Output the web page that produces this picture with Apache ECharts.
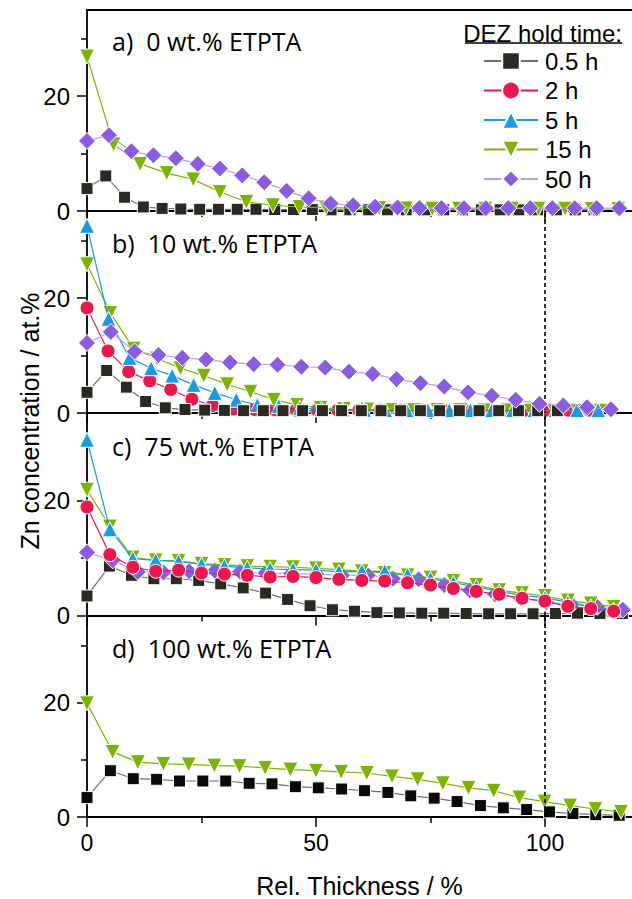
<!DOCTYPE html>
<html>
<head>
<meta charset="utf-8">
<script src="https://cdn.jsdelivr.net/npm/echarts@6/dist/echarts.min.js"></script>
<style>html,body{margin:0;padding:0;background:#fff}#c{width:632px;height:899px}</style>
</head>
<body>
<div id="c"></div>
<script>
// ---------- data ----------
const seriesNames = ['0.5 h', '2 h', '5 h', '15 h', '50 h'];
const panelLabels = ['a)  0 wt.% ETPTA', 'b)  10 wt.% ETPTA', 'c)  75 wt.% ETPTA', 'd)  100 wt.% ETPTA'];
const xTickLabels = [0, 50, 100];
const xMinorTicks = [25, 75];
const yTickLabels = [0, 20];
const yMinorTicks = [10, 30];
const xTitle = 'Rel. Thickness / %';
const yTitle = 'Zn concentration / at.%';
const legendTitle = 'DEZ hold time:';

// panel a (0 wt.%)
const a_black_x = [0,4.1,8.2,12.3,16.4,20.5,24.6,28.7,32.8,36.9,41,45.1,49.2,53.3,57.4,61.5,65.6,69.7,73.8,77.9,82,86.1,90.2,94.3,98.4,102.5,106.6,110.7];
const a_black_y = [3.9,6.1,2.4,0.7,0.45,0.35,0.3,0.3,0.3,0.3,0.25,0.25,0.25,0.2,0.2,0.2,0.2,0.2,0.2,0.2,0.2,0.2,0.2,0.2,0.2,0.2,0.2,0.2];
const a_green_x = [0,5.8,11.6,17.4,23.2,29,34.8,40.6,46.4,52.2,58,63.8,69.6,75.4,81.2,87,92.8,98.6,104.4,110.2,116];
const a_green_y = [26.9,11.6,8.2,6.6,5.5,3.3,1.6,1.0,0.7,0.6,0.5,0.5,0.45,0.4,0.4,0.4,0.4,0.4,0.4,0.35,0.35];
const a_purple_x = [0,4.8,9.7,14.5,19.4,24.2,29,33.9,38.7,43.6,48.4,53.2,58.1,62.9,67.8,72.6,77.4,82.3,87.1,92,96.8,101.6,106.5,111.3,116.2];
const a_purple_y = [12.2,13.2,10.4,9.7,9.2,8.2,7.4,6.2,5.0,3.5,2.2,1.3,1.0,0.75,0.6,0.5,0.5,0.5,0.5,0.5,0.5,0.5,0.5,0.5,0.5];

// panel b (10 wt.%)
const b_black_x = [0,4.3,8.6,12.8,17.1,21.4,25.7,30,34.2,38.5,42.8,47.1,51.4,55.6,59.9,64.2,68.5,72.8,77,81.3,85.6,89.9,94.2,98.4,102.7];
const b_black_y = [3.6,7.4,4.5,2.0,0.9,0.6,0.5,0.45,0.4,0.4,0.4,0.4,0.4,0.4,0.4,0.4,0.4,0.4,0.4,0.4,0.4,0.4,0.4,0.4,0.4];
const b_red_x = [0,4.6,9.1,13.7,18.3,22.9,27.4,32,36.6,41.1,45.7,50.3,54.8,59.4,64,68.6,73.1,77.7,82.3,86.8,91.4,96,100.5,105.1,109.7];
const b_red_y = [18.3,10.8,7.2,5.6,4.1,2.4,1.3,0.7,0.6,0.55,0.5,0.5,0.5,0.5,0.5,0.5,0.5,0.5,0.5,0.5,0.5,0.5,0.5,0.5,0.5];
const b_blue_x = [0,4.7,9.3,14,18.6,23.3,27.9,32.6,37.2,41.9,46.5,51.2,55.8,60.5,65.1,69.8,74.4,79.1,83.7,88.4,93,97.7,102.3,107,111.6];
const b_blue_y = [32.6,16.4,9.6,7.8,6.5,4.9,3.5,2.3,1.4,1.2,0.9,0.7,0.6,0.55,0.5,0.5,0.5,0.5,0.5,0.5,0.5,0.5,0.5,0.5,0.5];
const b_green_x = [0,5.1,10.2,15.3,20.4,25.5,30.6,35.7,40.8,45.9,51,56.1,61.2,66.3,71.4,76.5,81.6,86.7,91.8,96.9,102,107.1,112.2];
const b_green_y = [25.9,17.4,11.2,9.5,7.8,6.5,5.0,3.7,2.3,1.4,0.9,0.7,0.6,0.5,0.5,0.5,0.5,0.45,0.45,0.4,0.4,0.4,0.4];
const b_purple_x = [0,5.2,10.4,15.6,20.8,26,31.2,36.4,41.6,46.8,52,57.2,62.4,67.6,72.8,78,83.2,88.4,93.6,98.8,104,109.2,114.4];
const b_purple_y = [12.2,14.1,10.7,10.1,9.6,9.3,8.8,8.5,8.4,8.05,7.9,7.2,6.8,5.9,5.2,4.6,3.6,3.0,2.3,1.6,1.3,1.0,0.65];

// panel c (75 wt.%)
const c_black_x = [0,4.9,9.7,14.6,19.5,24.4,29.2,34.1,39,43.8,48.7,53.6,58.4,63.3,68.2,73.1,77.9,82.8,87.7,92.5,97.4,102.3,107.1,112,116.9];
const c_black_y = [3.4,8.6,7.0,6.4,6.4,6.1,5.5,4.8,3.9,2.8,1.7,1.0,0.75,0.5,0.45,0.4,0.4,0.35,0.3,0.3,0.3,0.35,0.4,0.35,0.35];
const c_red_x = [0,5,10,15,20,25,30,35,40,45,50,55,60,65,70,75,80,85,90,95,100,105,110,115];
const c_red_y = [18.9,10.6,8.4,7.7,7.9,7.4,7.2,7.0,6.7,6.8,6.6,6.3,6.1,6.0,5.7,5.3,4.7,4.2,3.7,3.0,2.5,1.6,1.2,0.75];
const c_blue_x = [0,5,10,15,20,25,30,35,40,45,50,55,60,65,70,75,80,85,90,95,100,105,110,115];
const c_blue_y = [30.6,15.0,9.9,9.6,9.4,8.9,8.6,8.3,8.1,8.0,7.9,7.6,7.7,7.7,7.1,6.4,5.7,5.0,4.2,3.5,3.1,2.3,1.6,1.0];
const c_green_x = [0,5,10,15,20,25,30,35,40,45,50,55,60,65,70,75,80,85,90,95,100,105,110,115];
const c_green_y = [21.9,15.5,10.1,9.6,9.5,9.0,8.8,8.6,8.5,8.4,8.2,8.0,7.7,7.4,7.0,6.6,6.0,5.3,4.4,3.9,3.4,2.6,2.1,1.5];
const c_purple_x = [0,5.6,11.1,16.7,22.3,27.9,33.4,39,44.6,50.1,55.7,61.3,66.8,72.4,78,83.6,89.1,94.7,100.3,105.8,111.4,117];
const c_purple_y = [11.0,9.6,7.6,7.5,7.7,7.8,7.6,7.4,7.3,7.2,7.0,7.0,6.4,6.3,5.3,4.4,3.7,3.0,2.3,1.9,1.5,1.0];

// panel d (100 wt.%)
const d_black_x = [0,5.1,10.1,15.2,20.2,25.3,30.3,35.4,40.4,45.5,50.5,55.6,60.6,65.7,70.7,75.8,80.8,85.9,90.9,96,101,106.1,111.1,116.2];
const d_black_y = [3.4,8.1,6.7,6.6,6.3,6.3,6.3,5.9,5.8,5.3,5.1,4.9,4.6,4.3,3.7,3.3,2.7,2.0,1.6,1.3,0.9,0.6,0.4,0.3];
const d_green_x = [0,5.6,11.1,16.7,22.2,27.8,33.3,38.9,44.4,50,55.5,61.1,66.6,72.2,77.7,83.3,88.8,94.4,99.9,105.5,111,116.6];
const d_green_y = [19.9,11.4,9.6,9.3,9.2,9.0,8.9,8.6,8.3,8.1,7.9,7.7,7.1,6.6,5.9,5.1,4.6,3.4,2.7,2.0,1.4,0.9];

const referenceLineX = 100;

// ---------- styles ----------
const FONT = 'Liberation Sans, Arial, sans-serif';
const LABEL_FONT = 'Open Sans, Noto Sans, sans-serif';
const styles = {
  '0.5 h': { symbol: 'rect', size: 12, rotate: 0, color: '#2b2a22', line: '#707070' },
  '2 h':   { symbol: 'circle', size: 14, rotate: 0, color: '#e8194f', line: '#e8194f' },
  '5 h':   { symbol: 'triangle', size: 15, rotate: 0, color: '#1a9be0', line: '#1a9be0' },
  '15 h':  { symbol: 'triangle', size: 15, rotate: 180, color: '#7cb305', line: '#7cb305' },
  '50 h':  { symbol: 'diamond', size: 17, rotate: 0, color: '#8c5ce0', line: '#b99cf0' }
};

const X_MAX = 119, Y_MAX = 35;
const gridTops = [10, 212, 414.5, 617];
const gridH = 201;

function zip(xs, ys) { return xs.map((x, i) => [x, ys[i]]); }

const panels = [
  [['0.5 h', a_black_x, a_black_y], ['15 h', a_green_x, a_green_y], ['50 h', a_purple_x, a_purple_y]],
  [['2 h', b_red_x, b_red_y], ['15 h', b_green_x, b_green_y], ['5 h', b_blue_x, b_blue_y], ['0.5 h', b_black_x, b_black_y], ['50 h', b_purple_x, b_purple_y]],
  [['0.5 h', c_black_x, c_black_y], ['50 h', c_purple_x, c_purple_y], ['15 h', c_green_x, c_green_y], ['5 h', c_blue_x, c_blue_y], ['2 h', c_red_x, c_red_y]],
  [['0.5 h', d_black_x, d_black_y], ['15 h', d_green_x, d_green_y]]
];

const grid = [], xAxis = [], yAxis = [], series = [], graphic = [];
const axisLine = { show: true, onZero: false, lineStyle: { color: '#000', width: 1.8 } };

panels.forEach((list, i) => {
  grid.push({ left: 87, right: 0, top: gridTops[i], height: gridH });
  const xi = xAxis.length;
  xAxis.push({
    type: 'value', gridIndex: i, min: 0, max: X_MAX, position: 'bottom',
    axisLine,
    axisTick: { show: true, inside: false, length: 10, customValues: xTickLabels, lineStyle: { color: '#000', width: 1.5 } },
    axisLabel: { show: i === 3, customValues: xTickLabels, fontSize: 23, fontFamily: FONT, color: '#000', margin: 14 },
    splitLine: { show: false },
    name: i === 3 ? xTitle : '', nameLocation: 'middle', nameGap: 56,
    nameTextStyle: { fontSize: 25, fontFamily: FONT, color: '#000' }
  });
  xAxis.push({
    type: 'value', gridIndex: i, min: 0, max: X_MAX, position: 'bottom',
    axisLine: { show: false },
    axisTick: { show: true, inside: false, length: 6, customValues: xMinorTicks, lineStyle: { color: '#000', width: 1.5 } },
    axisLabel: { show: false }, splitLine: { show: false }
  });
  if (i === 0) {
    xAxis.push({
      type: 'value', gridIndex: i, min: 0, max: X_MAX, position: 'top',
      axisLine, axisTick: { show: false }, axisLabel: { show: false }, splitLine: { show: false }
    });
  }
  const yi = yAxis.length;
  yAxis.push({
    type: 'value', gridIndex: i, min: 0, max: Y_MAX, position: 'left',
    axisLine,
    axisTick: { show: true, inside: false, length: 10, customValues: yTickLabels, lineStyle: { color: '#000', width: 1.5 } },
    axisLabel: { show: true, customValues: yTickLabels, fontSize: 24, fontFamily: FONT, color: '#000', margin: 17 },
    splitLine: { show: false }
  });
  yAxis.push({
    type: 'value', gridIndex: i, min: 0, max: Y_MAX, position: 'left',
    axisLine: { show: false },
    axisTick: { show: true, inside: false, length: 6, customValues: yMinorTicks, lineStyle: { color: '#000', width: 1.5 } },
    axisLabel: { show: false }, splitLine: { show: false }
  });

  list.forEach(([name, xs, ys], k) => {
    const st = styles[name];
    const s = {
      name, type: 'line', xAxisIndex: xi, yAxisIndex: yi,
      data: zip(xs, ys),
      symbol: st.symbol, symbolSize: st.size, symbolRotate: st.rotate,
      showAllSymbol: true, clip: true, animation: false,
      itemStyle: { color: (i === 3 && name === '0.5 h') ? '#0a0a0a' : st.color, borderColor: '#fff', borderWidth: 1 },
      lineStyle: { color: st.line, width: 1.2 },
      z: 2 + k
    };
    if (i > 0 && k === 0) {
      s.markLine = {
        silent: true, symbol: ['none', 'none'], animation: false,
        label: { show: false },
        lineStyle: { color: '#000', type: [4, 3], width: 1.6 },
        data: [{ xAxis: referenceLineX }]
      };
    }
    series.push(s);
  });

  graphic.push({
    type: 'text', x: 112, y: gridTops[i] + 31,
    style: { text: panelLabels[i], fontSize: 25, fontFamily: LABEL_FONT, fill: '#000', verticalAlign: 'middle', textAlign: 'left' }
  });
});

graphic.push({
  type: 'text', x: 622, y: 33,
  style: { text: legendTitle, fontSize: 24, fontFamily: FONT, fill: '#000', verticalAlign: 'middle', textAlign: 'right' }
});
graphic.push({
  type: 'line', shape: { x1: 465, y1: 43, x2: 622, y2: 43 }, style: { stroke: '#000', lineWidth: 1.5 }
});
graphic.push({
  type: 'text', x: 30, y: 421, rotation: Math.PI / 2,
  style: { text: yTitle, fontSize: 25, fontFamily: FONT, fill: '#000', verticalAlign: 'middle', textAlign: 'center' }
});

const chart = echarts.init(document.getElementById('c'), null, { renderer: 'svg', width: 632, height: 899 });
chart.setOption({
  backgroundColor: '#fff',
  animation: false,
  grid, xAxis, yAxis, series, graphic,
  legend: {
    data: seriesNames, orient: 'vertical', left: 483, top: 49, padding: 0,
    itemWidth: 54, itemHeight: 22, itemGap: 5.5,
    textStyle: { fontSize: 24, fontFamily: FONT, color: '#000', padding: [0, 0, 0, 2] },
    selectedMode: false
  }
});
</script>
</body>
</html>
